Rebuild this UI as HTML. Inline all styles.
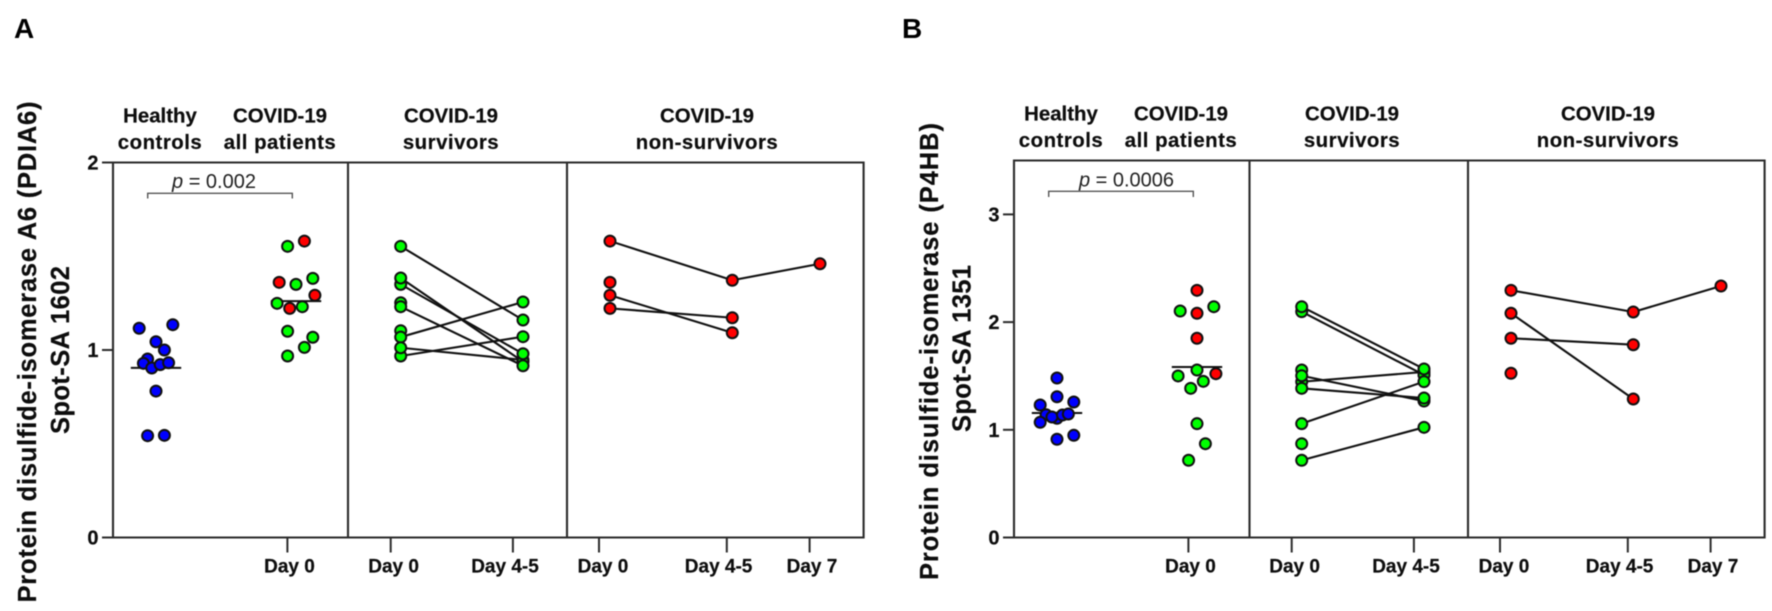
<!DOCTYPE html>
<html lang="en">
<head>
<meta charset="utf-8">
<title>Protein disulfide-isomerase spot abundance</title>
<style>
html,body{margin:0;padding:0;background:#fff;}
body{width:1772px;height:611px;overflow:hidden;}
svg{display:block;filter:blur(0.4px);}
text{font-family:"Liberation Sans",sans-serif;fill:#0d0d0d;}
.head,.head2,.ytitle,.tick-text{stroke:#0d0d0d;stroke-width:0.2px;}
.head{font-weight:bold;font-size:20.4px;text-anchor:middle;}
.head2{font-weight:bold;font-size:20.4px;text-anchor:middle;letter-spacing:0.5px;}
.ytitle{font-weight:bold;font-size:25.5px;text-anchor:middle;}
.pval{font-size:20px;text-anchor:middle;fill:#222;}
.letter{font-weight:bold;font-size:28px;fill:#000;}
.frame{stroke:#2b2b2b;stroke-width:2.1;fill:none;}
.bracket{stroke:#555;stroke-width:1.4;fill:none;}
</style>
</head>
<body>
<svg id="chart" width="1772" height="611" viewBox="0 0 1772 611" xmlns="http://www.w3.org/2000/svg">
  <rect x="0" y="0" width="1772" height="611" fill="#fff"/>

  <g id="panel-a">
    <text class="letter" x="14" y="38">A</text>
    <text class="ytitle" transform="translate(36,352) rotate(-90)" textLength="501" lengthAdjust="spacing">Protein disulfide-isomerase A6 (PDIA6)</text>
    <text class="ytitle" transform="translate(69,350) rotate(-90)" textLength="168" lengthAdjust="spacing">Spot-SA 1602</text>
    <g>
      <text class="head" x="160" y="122.5">Healthy</text>
      <text class="head2" x="160" y="149">controls</text>
      <text class="head" x="280" y="122.5">COVID-19</text>
      <text class="head2" x="280" y="149">all patients</text>
      <text class="head" x="451" y="122.5">COVID-19</text>
      <text class="head2" x="451" y="149">survivors</text>
      <text class="head" x="707" y="122.5">COVID-19</text>
      <text class="head2" x="707" y="149">non-survivors</text>
    </g>
    <path class="frame" d="M113 162.5H863.6V537.5H113Z M348 162.5V537.5 M567 162.5V537.5"/>
    <text class="pval" x="214" y="188"><tspan font-style="italic">p</tspan> = 0.002</text>
    <path class="bracket" d="M147.7 198.5V193.3H292.3V198.5"/>
    <g id="marks-a"></g>
  </g>

  <g id="panel-b">
    <text class="letter" x="902" y="38">B</text>
    <text class="ytitle" transform="translate(938,351.5) rotate(-90)" textLength="457" lengthAdjust="spacing">Protein disulfide-isomerase (P4HB)</text>
    <text class="ytitle" transform="translate(970.5,348.5) rotate(-90)" textLength="167" lengthAdjust="spacing">Spot-SA 1351</text>
    <g>
      <text class="head" x="1061" y="120.5">Healthy</text>
      <text class="head2" x="1061" y="147">controls</text>
      <text class="head" x="1181" y="120.5">COVID-19</text>
      <text class="head2" x="1181" y="147">all patients</text>
      <text class="head" x="1352" y="120.5">COVID-19</text>
      <text class="head2" x="1352" y="147">survivors</text>
      <text class="head" x="1608" y="120.5">COVID-19</text>
      <text class="head2" x="1608" y="147">non-survivors</text>
    </g>
    <path class="frame" d="M1014 160.5H1764.6V537.5H1014Z M1249.5 160.5V537.5 M1468 160.5V537.5"/>
    <text class="pval" x="1126.5" y="186.5"><tspan font-style="italic">p</tspan> = 0.0006</text>
    <path class="bracket" d="M1048.7 197V191.3H1193.3V197"/>
    <g id="marks-b"></g>
  </g>
</svg>

<script>
// ---------- Panel A data ----------
const yTicksA = [0, 1, 2];
const healthyA = [1.044, 1.116, 1.135, 1.0, 0.952, 0.929, 0.904, 0.922, 0.932, 0.781, 0.543, 0.545];
const healthySlotsA = [0, -4, 4, 2, -2, -3, -1, 1, 3, 0, -2, 2];
const healthyMeanA = 0.905;
const allPatientsA = [1.553, 1.581, 1.361, 1.350, 1.382, 1.292, 1.249, 1.222, 1.231, 1.100, 1.068, 1.014, 0.968];
const allPatientsSlotsA = [-2, 2, -4, 0, 4, 4.5, -4.5, -1.5, 1.5, -2, 4, 2, -2];
const allPatientsGroupA = ['s', 'n', 'n', 's', 's', 'n', 's', 'n', 's', 's', 's', 's', 's'];
const allPatientsMeanA = 1.261;
const survivorsDay0A = [1.252, 1.231, 1.350, 1.384, 1.553, 1.103, 1.069, 0.968, 1.012];
const survivorsDay45A = [null, 0.916, 0.980, 0.938, 1.160, null, 1.256, 1.071, 0.947];
const nonSurvivorsDay0A = [1.581, 1.361, 1.292, 1.222];
const nonSurvivorsDay45A = [1.372, null, 1.092, 1.172];
const nonSurvivorsDay7A = [1.46, null, null, null];

// ---------- Panel B data ----------
const yTicksB = [0, 1, 2, 3];
const healthyB = [1.107, 1.481, 1.307, 1.230, 1.258, 1.140, 1.119, 1.137, 1.147, 1.070, 0.912, 0.949];
const healthySlotsB = [0, 0, 0, -4, 4, -2.6, -1.2, 1.3, 2.7, -4, 0, 4];
const healthyMeanB = 1.156;
const allPatientsB = [2.295, 2.103, 2.143, 2.082, 1.850, 1.521, 1.555, 1.500, 1.450, 1.385, 1.057, 0.871, 0.717];
const allPatientsSlotsB = [0, -4, 4, 0, 0, 4.5, 0, -4.5, 1.5, -1.5, 0, 2, -2];
const allPatientsGroupB = ['n', 's', 's', 'n', 'n', 'n', 's', 's', 's', 's', 's', 's', 's'];
const allPatientsMeanB = 1.583;
const survivorsDay0B = [1.446, 2.097, 2.143, 1.555, 1.502, 1.385, 1.057, 0.717, 0.871];
const survivorsDay45B = [1.537, 1.509, 1.565, null, 1.267, 1.295, 1.447, 1.023, null];
const nonSurvivorsDay0B = [2.295, 2.082, 1.850, 1.525];
const nonSurvivorsDay45B = [2.094, 1.286, 1.790, null];
const nonSurvivorsDay7B = [2.335, null, null, null];

// ---------- Shared labels ----------
const xTickLabels = ['Day 0', 'Day 0', 'Day 4-5', 'Day 0', 'Day 4-5', 'Day 7'];

// ---------- Axis functions ----------
const SVGNS = 'http://www.w3.org/2000/svg';
const Y_ZERO = 537.5;
const UNIT_A = 187.5;
const UNIT_B = 107.7;
const SLOT_WIDTH = 4.2;
const DOT_COLORS = { h: '#0000ff', s: '#00ff00', n: '#ff0000' };

function yScale(value, unit) { return Y_ZERO - value * unit; }

function xColumn(name, dx) {
  switch (name) {
    case 'healthy': return dx + 156;
    case 'all': return dx + 296;
    case 'survDay0': return dx + 400.7;
    case 'survDay45': return dx + 523;
    case 'nonDay0': return dx + 610;
    case 'nonDay45': return dx + 732.3;
    default: return dx + 820;
  }
}

function xTickPos(index, dx) {
  switch (index) {
    case 0: return dx + 287.4;
    case 1: return dx + 390.7;
    case 2: return dx + 512.9;
    case 3: return dx + 599;
    case 4: return dx + 726.8;
    default: return dx + 809.6;
  }
}

function xLabelPos(index, dx) {
  switch (index) {
    case 0: return dx + 289.5;
    case 1: return dx + 393.6;
    case 2: return dx + 505;
    case 3: return dx + 603;
    case 4: return dx + 718.6;
    default: return dx + 812;
  }
}

function drawLine(parent, x1, y1, x2, y2, color, width) {
  const l = document.createElementNS(SVGNS, 'line');
  l.setAttribute('x1', x1);
  l.setAttribute('y1', y1);
  l.setAttribute('x2', x2);
  l.setAttribute('y2', y2);
  l.setAttribute('stroke', color);
  l.setAttribute('stroke-width', width);
  parent.appendChild(l);
  return l;
}

function drawDot(parent, x, y, group) {
  const c = document.createElementNS(SVGNS, 'circle');
  c.setAttribute('cx', x);
  c.setAttribute('cy', y);
  c.setAttribute('r', 5.5);
  c.setAttribute('fill', DOT_COLORS[group]);
  c.setAttribute('stroke', '#111');
  c.setAttribute('stroke-width', 2);
  parent.appendChild(c);
  return c;
}

function drawText(parent, x, y, str, anchor, size) {
  const t = document.createElementNS(SVGNS, 'text');
  t.setAttribute('x', x);
  t.setAttribute('y', y);
  t.setAttribute('class', 'tick-text');
  t.setAttribute('text-anchor', anchor);
  t.setAttribute('font-size', size);
  t.setAttribute('font-weight', 'bold');
  t.textContent = str;
  parent.appendChild(t);
  return t;
}

function drawAxes(g, yTicks, unit, dx) {
  yTicks.forEach(function (tick) {
    const y = yScale(tick, unit);
    const tl = drawLine(g, dx + 102, y, dx + 113, y, '#2b2b2b', 2);
    
    
    const tt = drawText(g, dx + 98.5, y + 7, String(tick), 'end', 20);
    
    
  });
  xTickLabels.forEach(function (label, i) {
    const x = xTickPos(i, dx);
    const tl = drawLine(g, x, Y_ZERO, x, Y_ZERO + 15, '#2b2b2b', 2);
    
    
    const tt = drawText(g, xLabelPos(i, dx), Y_ZERO + 35, label, 'middle', 19);
    
    
  });
}

function drawSwarm(g, col, dx, unit, values, slots, groups, mean, name) {
  const cx = xColumn(col, dx);
  const ml = drawLine(g, cx - 25.2, yScale(mean, unit), cx + 25.2, yScale(mean, unit), '#111', 2);
  
  
  values.forEach(function (v, i) {
    const group = groups ? groups[i] : 'h';
    const d = drawDot(g, cx + slots[i] * SLOT_WIDTH, yScale(v, unit), group);
    
    
  });
}

function drawPaired(g, cols, dx, unit, seriesList, group, name, reverseLast) {
  const n = seriesList[0].length;
  for (let i = 0; i < n; i++) {
    for (let s = 0; s + 1 < seriesList.length; s++) {
      const a = seriesList[s][i];
      const b = seriesList[s + 1][i];
      if (a === null || b === null) continue;
      const l = drawLine(g, xColumn(cols[s], dx), yScale(a, unit), xColumn(cols[s + 1], dx), yScale(b, unit), '#111', 2.1);
      
      
    }
  }
  seriesList.forEach(function (series, s) {
    const order = series.map(function (_, i) { return i; });
    if (reverseLast && s > 0) order.reverse();
    order.forEach(function (i) {
      if (series[i] === null) return;
      const d = drawDot(g, xColumn(cols[s], dx), yScale(series[i], unit), group);
      
      
    });
  });
}

// ---------- Panel A ----------
const marksA = document.getElementById('marks-a');
drawAxes(marksA, yTicksA, UNIT_A, 0);
drawSwarm(marksA, 'healthy', 0, UNIT_A, healthyA, healthySlotsA, null, healthyMeanA, 'healthy-controls-a');
drawSwarm(marksA, 'all', 0, UNIT_A, allPatientsA, allPatientsSlotsA, allPatientsGroupA, allPatientsMeanA, 'all-patients-a');
drawPaired(marksA, ['survDay0', 'survDay45'], 0, UNIT_A, [survivorsDay0A, survivorsDay45A], 's', 'survivors-a', true);
drawPaired(marksA, ['nonDay0', 'nonDay45', 'nonDay7'], 0, UNIT_A, [nonSurvivorsDay0A, nonSurvivorsDay45A, nonSurvivorsDay7A], 'n', 'non-survivors-a', false);

// ---------- Panel B ----------
const marksB = document.getElementById('marks-b');
const DX_B = 901;
drawAxes(marksB, yTicksB, UNIT_B, DX_B);
drawSwarm(marksB, 'healthy', DX_B, UNIT_B, healthyB, healthySlotsB, null, healthyMeanB, 'healthy-controls-b');
drawSwarm(marksB, 'all', DX_B, UNIT_B, allPatientsB, allPatientsSlotsB, allPatientsGroupB, allPatientsMeanB, 'all-patients-b');
drawPaired(marksB, ['survDay0', 'survDay45'], DX_B, UNIT_B, [survivorsDay0B, survivorsDay45B], 's', 'survivors-b', false);
drawPaired(marksB, ['nonDay0', 'nonDay45', 'nonDay7'], DX_B, UNIT_B, [nonSurvivorsDay0B, nonSurvivorsDay45B, nonSurvivorsDay7B], 'n', 'non-survivors-b', false);
</script>
</body>
</html>
